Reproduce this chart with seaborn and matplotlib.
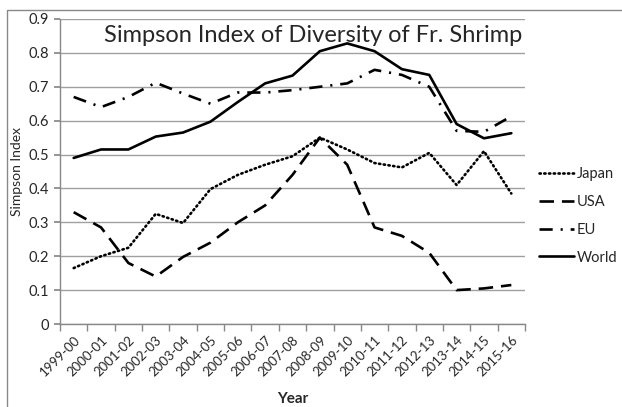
import matplotlib
matplotlib.use("Agg")
import matplotlib.pyplot as plt
import seaborn as sns
import pandas as pd
from matplotlib.patches import Rectangle

years = ["1999-00", "2000-01", "2001-02", "2002-03", "2003-04", "2004-05",
         "2005-06", "2006-07", "2007-08", "2008-09", "2009-10", "2010-11",
         "2011-12", "2012-13", "2013-14", "2014-15", "2015-16"]
japan = [0.165, 0.200, 0.225, 0.325, 0.298, 0.398, 0.440, 0.470, 0.495, 0.550,
         0.515, 0.475, 0.462, 0.505, 0.410, 0.510, 0.385]
usa = [0.330, 0.285, 0.180, 0.140, 0.198, 0.240, 0.300, 0.350, 0.440, 0.550,
       0.470, 0.285, 0.260, 0.210, 0.100, 0.105, 0.115]
eu = [0.670, 0.640, 0.670, 0.712, 0.680, 0.650, 0.683, 0.683, 0.690, 0.700,
      0.710, 0.750, 0.735, 0.700, 0.570, 0.567, 0.613]
world = [0.490, 0.515, 0.515, 0.553, 0.565, 0.597, 0.655, 0.710, 0.733, 0.805,
         0.828, 0.805, 0.752, 0.735, 0.590, 0.548, 0.563]
yticks = [0, 0.1, 0.2, 0.3, 0.4, 0.5, 0.6, 0.7, 0.8, 0.9]

sns.set_theme(style="white")
plt.rcParams['font.family'] = ['Lato', 'DejaVu Sans']

fig = plt.figure(figsize=(6.22, 4.07), dpi=100)
ax = fig.add_axes([60/622, (407-324)/407, (525-60)/622, (324-19)/407])

x = list(range(len(years)))
series = [
    ("Japan", japan, dict(linestyle=(0, (0.5, 1.3)), dash_capstyle='round')),
    ("USA", usa, dict(linestyle=(0, (5.5, 3.0)))),
    ("EU", eu, dict(linestyle=(0, (5.0, 3.0, 0.8, 3.0)))),
    ("World", world, dict(linestyle='-')),
]
for name, vals, kw in series:
    df = pd.DataFrame({"x": x, "y": vals})
    sns.lineplot(data=df, x="x", y="y", ax=ax, color="black", lw=1.9,
                 label=name, **kw)

ax.set_xlim(-0.5, len(years) - 0.5)
ax.set_ylim(0, 0.9)
ax.set_yticks(yticks)
ax.set_yticklabels([f"{v:g}" for v in yticks], fontsize=10.5)
ax.set_xticks(x)
ax.set_xticklabels(years, rotation=45, ha='right', rotation_mode='anchor',
                   fontsize=9.5)
ax.set_xticks([i - 0.5 for i in range(len(years) + 1)], minor=True)
ax.tick_params(axis='x', which='major', length=0, pad=7)
ax.tick_params(axis='x', which='minor', length=5, color='#888888', direction='out', bottom=True)
ax.tick_params(axis='y', length=4, color='#888888', left=True, pad=4)
ax.yaxis.grid(True, color='#a0a0a0', lw=1)
ax.xaxis.grid(False)
for s in ['top', 'right']:
    ax.spines[s].set_visible(False)
for s in ['left', 'bottom']:
    ax.spines[s].set_color('#888888')
    ax.spines[s].set_linewidth(1)

ax.set_xlabel("Year", fontsize=11, fontweight='bold', labelpad=10)
ax.set_ylabel("Simpson Index", fontsize=10, labelpad=4)
ax.text(0.545, 0.945, "Simpson Index of Diversity of Fr. Shrimp",
        transform=ax.transAxes, ha='center', va='center', fontsize=17)

ax.legend(loc='center left', bbox_to_anchor=(1.03, 0.355), frameon=False,
          fontsize=10.5, handlelength=2.4, handletextpad=0.2, labelspacing=0.95,
          borderaxespad=0, borderpad=0)

fig.patches.append(Rectangle((7/622, -0.01), 1.0, (407-10)/407 + 0.01,
                             transform=fig.transFigure, fill=False,
                             edgecolor='#888888', lw=1))

fig.savefig("out.png", dpi=100)
